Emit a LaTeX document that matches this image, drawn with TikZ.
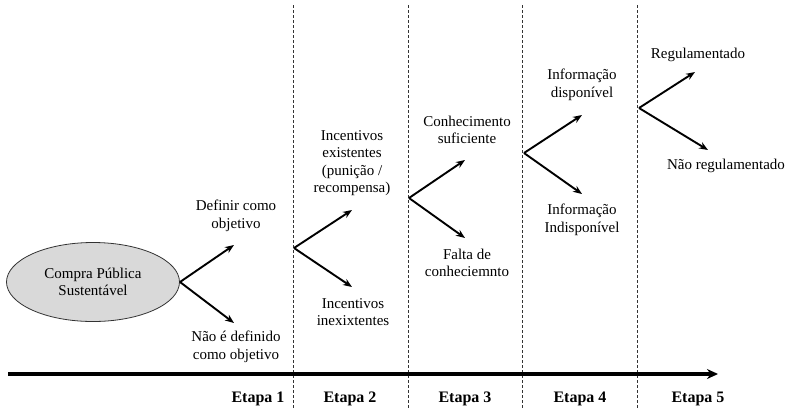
\documentclass[tikz,border=0pt]{standalone}
\usepackage{fontspec}
\setmainfont{Liberation Serif}
\usetikzlibrary{shapes.geometric,arrows.meta}
\begin{document}
\begin{tikzpicture}[x=1pt,y=-1pt,
  lbl/.style={align=center,font=\rmfamily\fontsize{15}{17.5}\selectfont,inner sep=0pt},
  stage/.style={anchor=base,font=\rmfamily\fontsize{16}{18}\selectfont\bfseries,inner sep=0pt},
  divider/.style={densely dashed,line width=0.6pt,black!80},
  branch/.style={line width=1.9pt,-{Stealth[length=9pt,width=7pt]}},
  timeline/.style={line width=3.2pt,-{Stealth[length=11pt,width=10pt]}}]
\useasboundingbox (0,0) rectangle (789,408);

% stage dividers
\foreach \x/\n in {293/d1,408/d2,522/d3,637/d4}{
  \coordinate (\n t) at (\x,5);
  \coordinate (\n b) at (\x,408);
  \draw[divider] (\n t) -- (\n b);
}

% time axis
\coordinate (tl0) at (8,374);
\coordinate (tl1) at (718,374);
\draw[timeline] (tl0) -- (tl1);

% stage labels
\node[stage] (e1) at (258,402) {Etapa 1};
\node[stage] (e2) at (350,402) {Etapa 2};
\node[stage] (e3) at (465,402) {Etapa 3};
\node[stage] (e4) at (580,402) {Etapa 4};
\node[stage] (e5) at (698,402) {Etapa 5};

% start
\node[ellipse,draw=black!80,line width=0.8pt,fill=black!15,minimum width=173pt,minimum height=79pt,
      lbl] (cps) at (93,282) {Compra Pública\\Sustentável};

% stage 1
\coordinate (o1) at (180,282);
\coordinate (u1) at (234,245);
\coordinate (l1) at (234,323);
\draw[branch] (o1) -- (u1);
\draw[branch] (o1) -- (l1);
\node[lbl] (t1u) at (236,216) {Definir como\\objetivo};
\node[lbl] (t1l) at (236,347) {Não é definido\\como objetivo};

% stage 2
\coordinate (o2) at (294,248);
\coordinate (u2) at (352,210);
\coordinate (l2) at (352,287);
\draw[branch] (o2) -- (u2);
\draw[branch] (o2) -- (l2);
\node[lbl] (t2u) at (352,163) {Incentivos\\existentes\\(punição /\\recompensa)};
\node[lbl] (t2l) at (353,312) {Incentivos\\inexixtentes};

% stage 3
\coordinate (o3) at (409,198);
\coordinate (u3) at (465,160);
\coordinate (l3) at (465,238);
\draw[branch] (o3) -- (u3);
\draw[branch] (o3) -- (l3);
\node[lbl] (t3u) at (467,130) {Conhecimento\\suficiente};
\node[lbl] (t3l) at (467,263) {Falta de\\conheciemnto};

% stage 4
\coordinate (o4) at (524,153);
\coordinate (u4) at (582,115);
\coordinate (l4) at (582,194);
\draw[branch] (o4) -- (u4);
\draw[branch] (o4) -- (l4);
\node[lbl] (t4u) at (582,85) {Informação\\disponível};
\node[lbl] (t4l) at (582,220) {Informação\\Indisponível};

% stage 5
\coordinate (o5) at (639,108);
\coordinate (u5) at (695,72);
\coordinate (l5) at (708,150);
\draw[branch] (o5) -- (u5);
\draw[branch] (o5) -- (l5);
\node[lbl] (t5u) at (698,55) {Regulamentado};
\node[lbl] (t5l) at (726,166) {Não regulamentado};
\end{tikzpicture}
\end{document}
